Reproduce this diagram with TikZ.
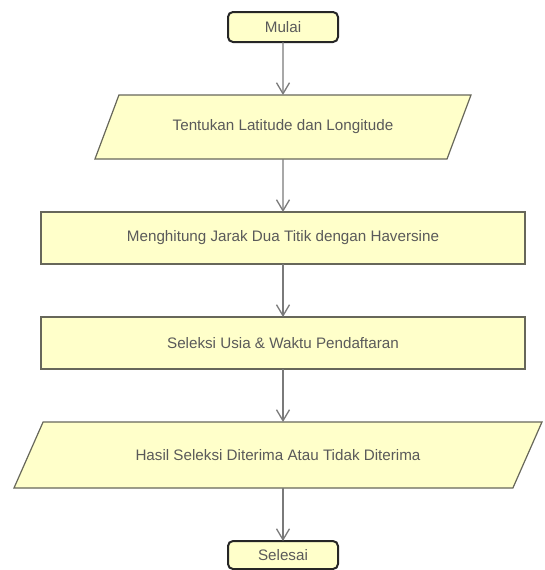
\documentclass[tikz,border=0pt]{standalone}
\usepackage{fontspec}
\setmainfont{Liberation Sans}
\usepackage{xcolor}
\usepackage{tikz}
\usetikzlibrary{shapes.geometric, arrows.meta, positioning}

\definecolor{isian}{HTML}{FFFFCA}
\definecolor{garis}{HTML}{67675A}
\definecolor{teks}{HTML}{5A5A5A}
\definecolor{panah}{HTML}{7A7A7A}

\begin{document}
\begin{tikzpicture}[x=1pt, y=-1pt, node distance=53pt]
        % --- gaya ---
        \tikzstyle{terminal} = [
            rectangle,
            rounded corners=5pt,
            minimum width=110pt,
            minimum height=28pt,
            outer sep=0pt,
            align=center,
            draw=black!85,
            line width=2pt,
            fill=isian,
            text=teks,
            font=\fontsize{15.2}{18}\selectfont
        ]
        \tikzstyle{process} = [
            rectangle,
            minimum width=484pt,
            minimum height=52pt,
            outer sep=0pt,
            align=center,
            draw=garis,
            line width=1.2pt,
            fill=isian,
            text=teks,
            font=\fontsize{15.2}{18}\selectfont
        ]
        \tikzstyle{io} = [
            trapezium,
            trapezium stretches body,
            outer sep=0pt,
            align=center,
            draw=garis,
            line width=1.2pt,
            fill=isian,
            text=teks,
            font=\fontsize{15.2}{18}\selectfont
        ]
        \tikzstyle{arrow} = [draw=panah, line width=1.3pt, -{Straight Barb[length=11pt, width=13pt]}]

        \useasboundingbox (0,0) rectangle (544,570);

        % --- node (tahapan) ---
        \node (mulai) [terminal, minimum height=30pt] at (283,27) {Mulai};
        \node (lokasi) [io, below=of mulai, minimum width=376pt, minimum height=64pt,
            trapezium left angle=41, trapezium right angle=139] {Tentukan Latitude dan Longitude};
        \node (jarak) [process, below=of lokasi] {Menghitung Jarak Dua Titik dengan Haversine};
        \node (seleksi) [process, below=of jarak] {Seleksi Usia \& Waktu Pendaftaran};
        \node (hasil) [io, below=of seleksi, xshift=-5pt, minimum width=528pt, minimum height=66pt,
            trapezium left angle=31.5, trapezium right angle=148.5] {Hasil Seleksi Diterima Atau Tidak Diterima};
        \node (selesai) [terminal, below=of hasil, xshift=5pt] {Selesai};

        % --- koneksi ---
        \draw [arrow] (mulai) -- (lokasi);
        \draw [arrow] (lokasi) -- (jarak);
        \draw [arrow] (jarak) -- (seleksi);
        \draw [arrow] (seleksi) -- (seleksi |- hasil.north);
        \draw [arrow] (hasil.south -| selesai) -- (selesai);
\end{tikzpicture}
\end{document}
